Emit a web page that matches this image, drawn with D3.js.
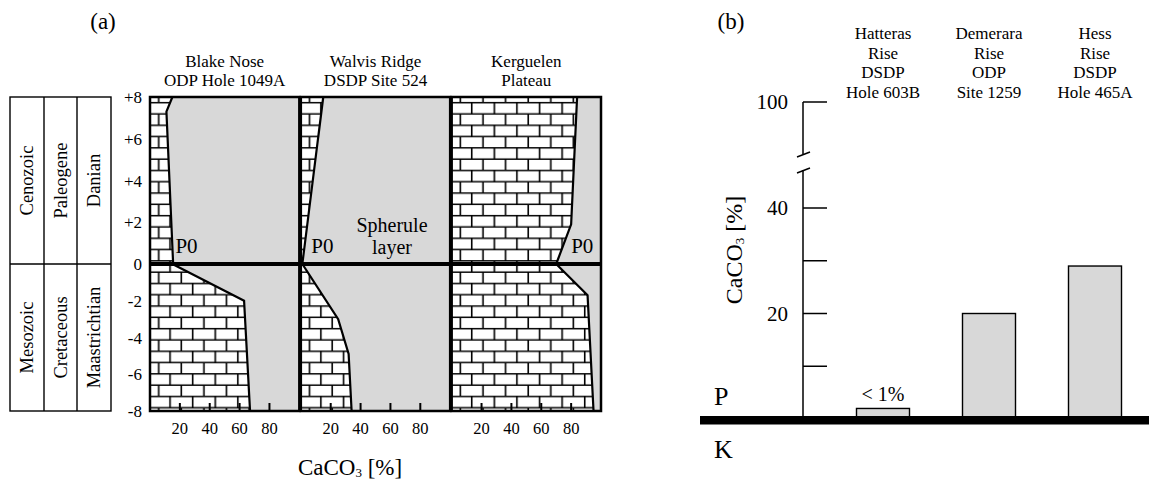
<!DOCTYPE html>
<html>
<head>
<meta charset="utf-8">
<script src="https://cdn.jsdelivr.net/npm/d3@7"></script>
<style>
  body { margin: 0; background: #fff; }
  svg { display: block; font-family: "Liberation Serif", "Times New Roman", serif; }
</style>
</head>
<body>
<div id="chart"></div>
<script>
// ---- data, panel (a) ----
var depthTicks = [8, 6, 4, 2, 0, -2, -4, -6, -8];
var depthLabels = ["+8", "+6", "+4", "+2", "0", "-2", "-4", "-6", "-8"];
var pctTicks = [20, 40, 60, 80];
var sites = ["blake", "walvis", "kerguelen"];
var siteTitles = [["Blake Nose", "ODP Hole 1049A"], ["Walvis Ridge", "DSDP Site 524"], ["Kerguelen", "Plateau"]];
// [depth, CaCO3 %]
var blakeUpper = [[8, 15], [7.3, 11], [0, 15.5]];
var blakeLower = [[0, 15], [-2, 63], [-8, 67]];
var walvisUpper = [[8, 15], [0, 1]];
var walvisLower = [[0, 1], [-3, 25], [-4.9, 32], [-8, 34]];
var kergUpper = [[8, 84], [1.9, 80], [0, 70]];
var kergLower = [[0, 70], [-1.7, 91], [-8, 95]];
var curves = [[blakeUpper, blakeLower], [walvisUpper, walvisLower], [kergUpper, kergLower]];
var stratNames = [["Cenozoic", "Paleogene", "Danian"], ["Mesozoic", "Cretaceous", "Maastrichtian"]];
var stratSpans = [[8, 0], [0, -8]];

// ---- data, panel (b) ----
var holes = ["603B", "1259", "465A"];
var holeTitles = [["Hatteras", "Rise", "DSDP", "Hole 603B"], ["Demerara", "Rise", "ODP", "Site 1259"], ["Hess", "Rise", "DSDP", "Hole 465A"]];
var holeCaco3 = [2, 20, 29];
var caTicks = [10, 20, 30, 40, 100];
var caTickLabels = ["", "20", "", "40", "100"];

var W = 1149, H = 484;
var gray = "#d8d8d8";

var svg = d3.select("#chart").append("svg")
    .attr("width", W)
    .attr("height", H);

// brick (limestone) pattern
var pat = svg.append("defs").append("pattern")
    .attr("id", "brick")
    .attr("patternUnits", "userSpaceOnUse")
    .attr("x", 150).attr("y", 97)
    .attr("width", 22.6).attr("height", 22.6);
pat.append("rect").attr("width", 22.6).attr("height", 22.6).attr("fill", "#fff");
pat.append("path")
    .attr("d", "M0,5.65H22.6M0,16.95H22.6M5.65,5.65V16.95M16.95,16.95V22.6M16.95,0V5.65")
    .attr("stroke", "#000").attr("stroke-width", 1.6).attr("fill", "none");

// ================= panel (a) =================
var y = d3.scaleLinear().domain([-8, 0, 8]).range([411, 264, 97]);
var panelX = d3.scaleBand().domain(sites).range([150, 601]).paddingInner(0.01);
var x = d3.scaleLinear().domain([0, 100]).range([0, panelX.bandwidth()]);

svg.append("text").attr("x", 103).attr("y", 29).attr("text-anchor", "middle")
    .attr("font-size", 23).text("(a)");

// stratigraphic column
var colX = [10, 44, 77, 111];
var strat = svg.append("g").attr("fill", "none").attr("stroke", "#000").attr("stroke-width", 1.4);
strat.append("rect").attr("x", colX[0]).attr("y", y(8)).attr("width", colX[3] - colX[0]).attr("height", y(-8) - y(8));
colX.slice(1, 3).forEach(function(cx) {
    strat.append("line").attr("x1", cx).attr("x2", cx).attr("y1", y(8)).attr("y2", y(-8));
});
strat.append("line").attr("x1", colX[0]).attr("x2", colX[3]).attr("y1", y(0)).attr("y2", y(0));
stratNames.forEach(function(names, r) {
    var cy = (y(stratSpans[r][0]) + y(stratSpans[r][1])) / 2;
    names.forEach(function(n, c) {
        var cx = (colX[c] + colX[c + 1]) / 2;
        svg.append("text")
            .attr("transform", "translate(" + (cx + 6) + "," + cy + ") rotate(-90)")
            .attr("text-anchor", "middle").attr("font-size", 18.5).text(n);
    });
});

// depth labels
svg.append("g").selectAll("text").data(depthTicks).enter().append("text")
    .attr("x", 142).attr("y", function(d) { return y(d) + 6; })
    .attr("text-anchor", "end").attr("font-size", 17)
    .text(function(d, i) { return depthLabels[i]; });

var line = d3.line().x(function(d) { return x(d[1]); }).y(function(d) { return y(d[0]); });

sites.forEach(function(s, i) {
    var g = svg.append("g").attr("transform", "translate(" + panelX(s) + ",0)");
    var bw = panelX.bandwidth();
    g.append("rect").attr("x", 0).attr("y", y(8)).attr("width", bw).attr("height", y(-8) - y(8)).attr("fill", gray);
    // limestone part, left of the CaCO3 curve
    curves[i].forEach(function(c) {
        var top = c[0][0], bot = c[c.length - 1][0];
        var poly = [[top, 0]].concat(c).concat([[bot, 0]]);
        g.append("path").attr("d", line(poly) + "Z").attr("fill", "url(#brick)");
    });
    curves[i].forEach(function(c) {
        g.append("path").attr("d", line(c)).attr("fill", "none")
            .attr("stroke", "#000").attr("stroke-width", 2.2);
    });
    // ticks
    g.selectAll(".tk").data(pctTicks).enter().append("line")
        .attr("x1", function(d) { return x(d); }).attr("x2", function(d) { return x(d); })
        .attr("y1", y(-8)).attr("y2", y(-8) - 8)
        .attr("stroke", "#000").attr("stroke-width", 2);
    g.selectAll(".tl").data(pctTicks).enter().append("text")
        .attr("x", function(d) { return x(d); }).attr("y", 434)
        .attr("text-anchor", "middle").attr("font-size", 16.5)
        .text(function(d) { return d; });
    g.append("rect").attr("x", 0).attr("y", y(8)).attr("width", bw).attr("height", y(-8) - y(8))
        .attr("fill", "none").attr("stroke", "#000").attr("stroke-width", 2.5);
    siteTitles[i].forEach(function(t, k) {
        g.append("text").attr("x", bw / 2).attr("y", 67 + k * 19)
            .attr("text-anchor", "middle").attr("font-size", 17).text(t);
    });
});

// zero line (K/Pg boundary)
svg.append("line").attr("x1", 150).attr("x2", 601).attr("y1", y(0)).attr("y2", y(0))
    .attr("stroke", "#000").attr("stroke-width", 3.8);

// P0 / spherule labels
var labA = svg.append("g").attr("font-size", 21);
labA.append("text").attr("x", panelX("blake") + x(17)).attr("y", 253).text("P0");
labA.append("text").attr("x", panelX("walvis") + x(7)).attr("y", 253).text("P0");
labA.append("text").attr("x", panelX("kerguelen") + x(80)).attr("y", 253).text("P0");
labA.append("text").attr("x", 392).attr("y", 232).attr("text-anchor", "middle").attr("font-size", 20).text("Spherule");
labA.append("text").attr("x", 392).attr("y", 254).attr("text-anchor", "middle").attr("font-size", 20).text("layer");

// x label
var xl = svg.append("text").attr("x", 350).attr("y", 475).attr("text-anchor", "middle").attr("font-size", 23);
xl.append("tspan").text("CaCO");
xl.append("tspan").attr("font-size", 13).attr("dy", 2).text("3");
xl.append("tspan").attr("dy", -2).text(" [%]");

// ================= panel (b) =================
var yb = d3.scaleLinear().domain([0, 40, 100]).range([419, 208, 102]);
var xb = d3.scaleBand().domain(holes).range([830, 1148]).paddingInner(0.5).paddingOuter(0.25);
var axX = 803;

svg.append("text").attr("x", 731).attr("y", 29).attr("text-anchor", "middle")
    .attr("font-size", 23).text("(b)");

var ax = svg.append("g").attr("stroke", "#000").attr("stroke-width", 1.5);
ax.append("line").attr("x1", axX).attr("x2", axX).attr("y1", yb(100)).attr("y2", 154);
ax.append("line").attr("x1", axX).attr("x2", axX).attr("y1", 170).attr("y2", yb(0));
ax.append("line").attr("x1", axX - 6).attr("x2", axX + 7).attr("y1", 157).attr("y2", 152);
ax.append("line").attr("x1", axX - 6).attr("x2", axX + 7).attr("y1", 173).attr("y2", 168);
ax.selectAll(".t").data(caTicks).enter().append("line")
    .attr("x1", axX).attr("x2", axX + 24)
    .attr("y1", function(d) { return yb(d); }).attr("y2", function(d) { return yb(d); });
svg.append("g").selectAll("text").data(caTicks).enter().append("text")
    .attr("x", 788).attr("y", function(d) { return yb(d) + 7; })
    .attr("text-anchor", "end").attr("font-size", 21)
    .text(function(d, i) { return caTickLabels[i]; });

var yl = svg.append("text").attr("transform", "translate(742,250) rotate(-90)")
    .attr("text-anchor", "middle").attr("font-size", 24);
yl.append("tspan").text("CaCO");
yl.append("tspan").attr("font-size", 13).attr("dy", 2).text("3");
yl.append("tspan").attr("dy", -2).text(" [%]");

svg.append("g").selectAll("rect").data(holeCaco3).enter().append("rect")
    .attr("x", function(d, i) { return xb(holes[i]); })
    .attr("y", function(d) { return yb(d); })
    .attr("width", xb.bandwidth())
    .attr("height", function(d) { return yb(0) - yb(d); })
    .attr("fill", gray).attr("stroke", "#000").attr("stroke-width", 1.4);

holeTitles.forEach(function(lines, i) {
    lines.forEach(function(t, k) {
        svg.append("text").attr("x", xb(holes[i]) + xb.bandwidth() / 2).attr("y", 39 + k * 19.5)
            .attr("text-anchor", "middle").attr("font-size", 17).text(t);
    });
});

svg.append("text").attr("x", xb(holes[0]) + xb.bandwidth() / 2).attr("y", yb(holeCaco3[0]) - 7)
    .attr("text-anchor", "middle").attr("font-size", 20).text("< 1%");

svg.append("rect").attr("x", 700).attr("y", yb(0) - 3).attr("width", W - 700).attr("height", 8.5).attr("fill", "#000");

svg.append("text").attr("x", 714).attr("y", 405).attr("font-size", 26).text("P");
svg.append("text").attr("x", 714).attr("y", 458).attr("font-size", 26).text("K");
</script>
</body>
</html>
